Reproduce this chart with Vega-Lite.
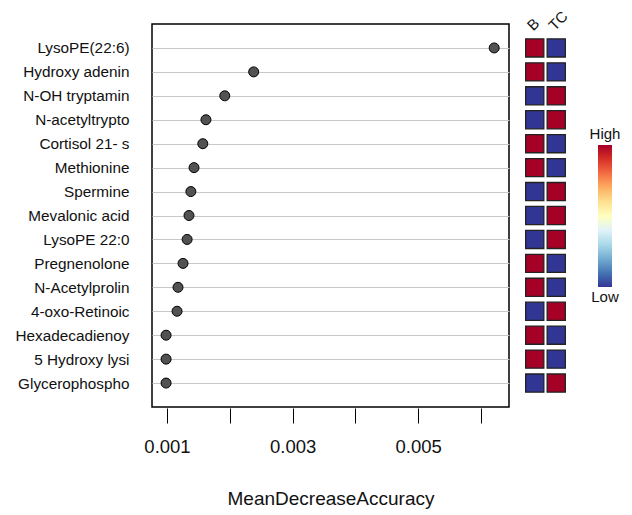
{
  "$schema": "https://vega.github.io/schema/vega-lite/v6.json",
  "padding": {"left": 14, "top": 8, "right": 5, "bottom": 5},
  "bounds": "flush",
  "spacing": 15,
  "config": {
    "view": {"stroke": null},
    "font": "Liberation Sans",
    "axis": {"labelColor": "#111", "titleColor": "#111", "labelFont": "Liberation Sans", "titleFont": "Liberation Sans", "titleFontWeight": "normal"}
  },
  "datasets": {
    "imp": [
      {"name": "LysoPE(22:6)", "mda": 0.00621, "B": "High", "TC": "Low"},
      {"name": "Hydroxy adenin", "mda": 0.00238, "B": "High", "TC": "Low"},
      {"name": "N-OH tryptamin", "mda": 0.00192, "B": "Low", "TC": "High"},
      {"name": "N-acetyltrypto", "mda": 0.00162, "B": "Low", "TC": "High"},
      {"name": "Cortisol 21- s", "mda": 0.00157, "B": "High", "TC": "Low"},
      {"name": "Methionine", "mda": 0.00143, "B": "High", "TC": "Low"},
      {"name": "Spermine", "mda": 0.00138, "B": "Low", "TC": "High"},
      {"name": "Mevalonic acid", "mda": 0.00135, "B": "Low", "TC": "High"},
      {"name": "LysoPE 22:0", "mda": 0.00132, "B": "Low", "TC": "High"},
      {"name": "Pregnenolone", "mda": 0.001255, "B": "High", "TC": "Low"},
      {"name": "N-Acetylprolin", "mda": 0.001175, "B": "High", "TC": "Low"},
      {"name": "4-oxo-Retinoic", "mda": 0.00116, "B": "Low", "TC": "High"},
      {"name": "Hexadecadienoy", "mda": 0.000985, "B": "High", "TC": "Low"},
      {"name": "5 Hydroxy lysi", "mda": 0.000985, "B": "High", "TC": "Low"},
      {"name": "Glycerophospho", "mda": 0.000985, "B": "Low", "TC": "High"}
    ],
    "legend": [
      {"k": "legend", "lo": 0, "hi": 1}
    ],
    "legendText": [
      {"k": "legend", "label": "High", "v": 1, "pos": "top"},
      {"k": "legend", "label": "Low", "v": 0, "pos": "bottom"}
    ]
  },
  "hconcat": [
    {
      "width": 357,
      "height": 383,
      "view": {"stroke": "#000", "strokeWidth": 1.5},
      "data": {"name": "imp"},
      "mark": {"type": "circle", "size": 100, "opacity": 1, "fill": "#525252", "stroke": "#000", "strokeWidth": 1},
      "encoding": {
        "y": {
          "field": "name", "type": "nominal", "sort": null,
          "scale": {"type": "point", "padding": 1},
          "axis": {"title": null, "domain": false, "ticks": false, "tickSize": 0, "labelPadding": 23, "labelFontSize": 15.3, "grid": true, "gridColor": "#c8c8c8", "gridWidth": 1}
        },
        "x": {
          "field": "mda", "type": "quantitative",
          "scale": {"domain": [0.000761, 0.006446], "nice": false, "zero": false},
          "axis": {
            "title": "MeanDecreaseAccuracy", "titleFontSize": 19, "titlePadding": 34,
            "values": [0.001, 0.002, 0.003, 0.004, 0.005, 0.006],
            "format": ".3f",
            "labelExpr": "round(datum.value*1000) % 2 == 1 ? datum.label : ''",
            "labelFontSize": 18.5, "labelPadding": 14, "labelOverlap": false,
            "grid": false, "domain": false, "tickSize": 15, "tickColor": "#000", "tickWidth": 1, "offset": 1
          }
        }
      }
    },
    {
      "width": 43,
      "height": 383,
      "data": {"name": "imp"},
      "transform": [{"fold": ["B", "TC"], "as": ["group", "level"]}],
      "mark": {"type": "square", "size": 330, "opacity": 1, "stroke": "#222", "strokeWidth": 1.3},
      "encoding": {
        "y": {"field": "name", "type": "nominal", "sort": null, "scale": {"type": "point", "padding": 1}, "axis": null},
        "x": {
          "field": "group", "type": "nominal",
          "scale": {"type": "point", "padding": 0.5},
          "axis": {"orient": "top", "title": null, "domain": false, "ticks": false, "labelAngle": -45, "labelFontSize": 15, "labelPadding": -9}
        },
        "fill": {
          "field": "level", "type": "nominal",
          "scale": {"domain": ["High", "Low"], "range": ["#A50026", "#313695"]},
          "legend": null
        }
      }
    },
    {
      "width": 46,
      "height": 263,
      "layer": [
        {
          "data": {"name": "legend"},
          "mark": {
            "type": "bar", "width": 14,
            "color": {
              "gradient": "linear", "x1": 0, "y1": 1, "x2": 0, "y2": 0,
              "stops": [
                {"offset": 0, "color": "#313695"},
                {"offset": 0.1, "color": "#4575b4"},
                {"offset": 0.2, "color": "#74add1"},
                {"offset": 0.3, "color": "#abd9e9"},
                {"offset": 0.4, "color": "#e0f3f8"},
                {"offset": 0.5, "color": "#ffffbf"},
                {"offset": 0.6, "color": "#fee090"},
                {"offset": 0.7, "color": "#fdae61"},
                {"offset": 0.8, "color": "#f46d43"},
                {"offset": 0.9, "color": "#d73027"},
                {"offset": 1, "color": "#a50026"}
              ]
            }
          },
          "encoding": {
            "x": {"field": "k", "type": "nominal", "axis": null},
            "y": {"field": "lo", "type": "quantitative", "scale": {"domain": [0, 1.852], "nice": false}, "axis": null},
            "y2": {"field": "hi"}
          }
        },
        {
          "data": {"name": "legendText"},
          "transform": [{"filter": "datum.pos == 'top'"}],
          "mark": {"type": "text", "fontSize": 15, "baseline": "bottom", "dy": -3, "color": "#111"},
          "encoding": {
            "x": {"field": "k", "type": "nominal", "axis": null},
            "y": {"field": "v", "type": "quantitative", "scale": {"domain": [0, 1.852], "nice": false}, "axis": null},
            "text": {"field": "label"}
          }
        },
        {
          "data": {"name": "legendText"},
          "transform": [{"filter": "datum.pos == 'bottom'"}],
          "mark": {"type": "text", "fontSize": 15, "baseline": "top", "dy": 3, "color": "#111"},
          "encoding": {
            "x": {"field": "k", "type": "nominal", "axis": null},
            "y": {"field": "v", "type": "quantitative", "scale": {"domain": [0, 1.852], "nice": false}, "axis": null},
            "text": {"field": "label"}
          }
        }
      ]
    }
  ]
}
